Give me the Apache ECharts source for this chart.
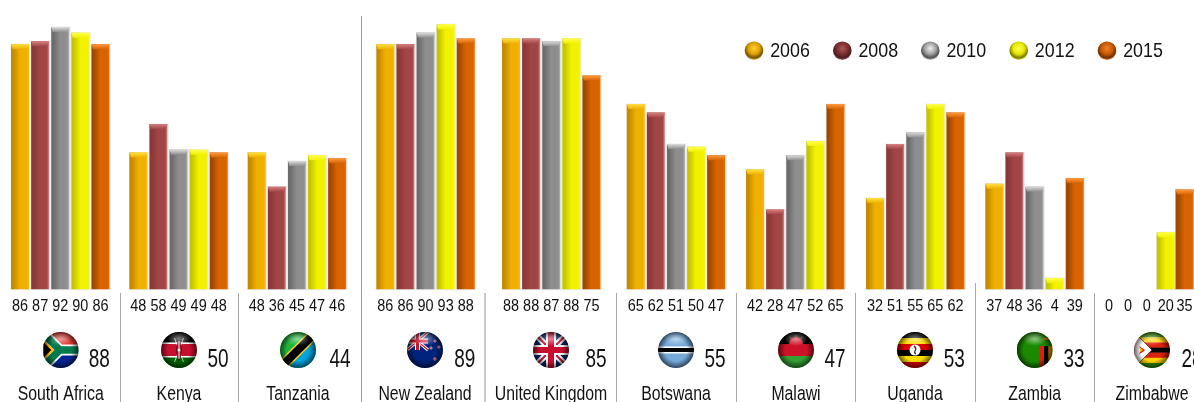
<!DOCTYPE html>
<html>
<head>
<meta charset="utf-8">
<style>html,body{margin:0;padding:0;background:#fff;overflow:hidden}#chart{width:1194px;height:402px}</style>
<script src="https://cdn.jsdelivr.net/npm/echarts@6/dist/echarts.min.js"></script>
</head>
<body>
<div id="chart"></div>
<script>
// Survey scores per country and year, plus the overall score beside each flag.
const years = ['2006', '2008', '2010', '2012', '2015'];
const countries = ['South Africa', 'Kenya', 'Tanzania', 'New Zealand', 'United Kingdom', 'Botswana', 'Malawi', 'Uganda', 'Zambia', 'Zimbabwe'];
const values2006 = [86, 48, 48, 86, 88, 65, 42, 32, 37, 0];
const values2008 = [87, 58, 36, 86, 88, 62, 28, 51, 48, 0];
const values2010 = [92, 49, 45, 90, 87, 51, 47, 55, 36, 0];
const values2012 = [90, 49, 47, 93, 88, 50, 52, 65, 4, 20];
const values2015 = [86, 48, 46, 88, 75, 47, 65, 62, 39, 35];
const overall = [88, 50, 44, 89, 85, 55, 47, 53, 33, 28];
const byYear = [values2006, values2008, values2010, values2012, values2015];

// Layout of the country panels.
const FONT = '"Liberation Sans", Arial, sans-serif';
const INK = '#111111';
const panelLeft = [10, 128.3, 246.7, 375.3, 501, 625.7, 745, 865, 984.3, 1099.6];
const flagCentre = [60.7, 179, 298, 425, 551, 676, 796, 915, 1034.7, 1152];
const scoreCentre = [99.3, 218, 340, 464.7, 596, 715, 835, 954.3, 1074, 1192];
const legendBall = [754, 842.3, 930.3, 1018.7, 1107];
const separators = [
  { x: 120.5, top: 293, color: '#a9a9a9', width: 1 },
  { x: 238.5, top: 293, color: '#a9a9a9', width: 1 },
  { x: 361.5, top: 16, color: '#a0a0a0', width: 1 },
  { x: 485, top: 293, color: '#c8c8c8', width: 2 },
  { x: 616.5, top: 293, color: '#a9a9a9', width: 1 },
  { x: 736.5, top: 293, color: '#a9a9a9', width: 1 },
  { x: 855.5, top: 293, color: '#a9a9a9', width: 1 },
  { x: 975.5, top: 283, color: '#a9a9a9', width: 1 },
  { x: 1094.5, top: 293, color: '#a9a9a9', width: 1 }
];

// Shading of each year's bars: left edge, middle, right edge, cap, and the legend ball.
const shades = [
  { l: '#c48a00', m: '#f0b000', r: '#f6bc10', cap: '#ffe040', ball: ['#ffd030', '#e0a000', '#705000', '#e8c040'] },
  { l: '#8a3838', m: '#a24545', r: '#cf9090', cap: '#d88080', ball: ['#a85858', '#7c2e2e', '#4a1c1c', '#b06868'] },
  { l: '#6c6c6c', m: '#8e8e8e', r: '#b4b4b4', cap: '#dcdcdc', ball: ['#efefef', '#a0a0a0', '#505050', '#c8c8c8'] },
  { l: '#c6c600', m: '#f2f200', r: '#f6f610', cap: '#ffff50', ball: ['#ffff50', '#e8e800', '#787800', '#e8e840'] },
  { l: '#a04800', m: '#d86400', r: '#ea7200', cap: '#ff9a40', ball: ['#f08030', '#c85a00', '#6e3000', '#e88030'] }
];

// Flag artwork on a 36 x 36 field, clipped to a ball and lit from above.
const stripes = (list) => {
  let y = 0, out = '';
  list.forEach(([c, h]) => { out += `<rect y="${y}" width="36" height="${h + 0.3}" fill="${c}"/>`; y += h; });
  return out;
};
const flagArt = {
  'South Africa': stripes([['#de3831', 18], ['#002395', 18]]) +
    '<path d="M-3 -2 L17 18 L-3 38 M17 18 H38" fill="none" stroke="#fff" stroke-width="11"/>' +
    '<path d="M-3 -2 L17 18 L-3 38 M17 18 H38" fill="none" stroke="#007a4d" stroke-width="7.5"/>' +
    '<path d="M0 8 L10 18 L0 28Z" fill="#000" stroke="#ffb612" stroke-width="2"/>',
  'Kenya': stripes([['#000', 10.5], ['#fff', 1.5], ['#c8102e', 12], ['#fff', 1.5], ['#006600', 10.5]]) +
    '<path d="M13.5 6 L22.5 30 M22.5 6 L13.5 30" stroke="#fff" stroke-width=".7"/>' +
    '<path d="M18 7 Q22.5 18 18 29 Q13.5 18 18 7Z" fill="#c8102e" stroke="#000" stroke-width=".6"/><path d="M18 9 V27" stroke="#fff" stroke-width=".9"/><circle cx="18" cy="18" r="1.5" fill="#fff"/>',
  'Tanzania': '<rect width="36" height="36" fill="#1eb53a"/><path d="M36 0 V36 H0Z" fill="#00a3dd"/><path d="M-4 40 L40 -4" stroke="#fcd116" stroke-width="11"/><path d="M-4 40 L40 -4" stroke="#000" stroke-width="8"/>',
  'New Zealand': '<rect width="36" height="36" fill="#00247d"/><path d="M0 0 L21 18 M21 0 L0 18" stroke="#fff" stroke-width="3"/><path d="M0 0 L21 18 M21 0 L0 18" stroke="#cc142b" stroke-width="1.2"/><path d="M10.5 0 V18 M0 9 H21" stroke="#fff" stroke-width="5"/><path d="M10.5 0 V18 M0 9 H21" stroke="#cc142b" stroke-width="3"/>' +
    '<g fill="#cc142b" stroke="#fff" stroke-width=".5"><circle cx="28" cy="9" r="1.2"/><circle cx="24" cy="16" r="1.2"/><circle cx="32" cy="15" r="1.2"/><circle cx="28" cy="27" r="1.3"/></g>',
  'United Kingdom': '<rect width="36" height="36" fill="#012169"/><path d="M0 0 L36 36 M36 0 L0 36" stroke="#fff" stroke-width="6"/><path d="M0 0 L36 36 M36 0 L0 36" stroke="#c8102e" stroke-width="2"/><path d="M18 0 V36 M0 18 H36" stroke="#fff" stroke-width="10"/><path d="M18 0 V36 M0 18 H36" stroke="#c8102e" stroke-width="6"/>',
  'Botswana': stripes([['#75aadb', 14.5], ['#fff', 1.5], ['#000', 4], ['#fff', 1.5], ['#75aadb', 14.5]]),
  'Malawi': stripes([['#000', 12], ['#ce1126', 12], ['#339e35', 12]]) + '<path d="M11 12 A7 7 0 0 1 25 12Z" fill="#ce1126"/><path d="M18 3 V6 M12 5 L14 7.5 M24 5 L22 7.5" stroke="#ce1126" stroke-width="1"/>',
  'Uganda': stripes([['#000', 6], ['#fcdc04', 6], ['#d90000', 6], ['#000', 6], ['#fcdc04', 6], ['#d90000', 6]]) + '<circle cx="18" cy="18" r="5.5" fill="#fff"/><path d="M17 14 Q20 16 18 19 Q17 21 19 22" fill="none" stroke="#333" stroke-width="1.3"/><path d="M17 16 L19 15" stroke="#d90000" stroke-width="1"/>',
  'Zambia': '<rect width="36" height="36" fill="#198a00"/><rect x="23" y="14" width="4.4" height="22" fill="#de2010"/><rect x="27.4" y="14" width="4.4" height="22" fill="#000"/><rect x="31.8" y="14" width="4.2" height="22" fill="#ef7d00"/><path d="M26 7 Q29.5 4 33 7 Q29.5 9 26 7Z" fill="#ef7d00"/>',
  'Zimbabwe': stripes([['#319208', 5.2], ['#ffd200', 5.2], ['#de2010', 5.2], ['#000', 5], ['#de2010', 5.2], ['#ffd200', 5.2], ['#319208', 5]]) +
    '<path d="M0 0 L18 18 L0 36Z" fill="#fff" stroke="#000" stroke-width=".6"/><path d="M5 14 L7 18 L5 22 L9 20 L11 18 L8 16Z" fill="#de2010"/><path d="M6 16 L9 18 L6 20Z" fill="#ffd200"/>'
};
const flagImage = (name) => {
  const svg = `<svg xmlns="http://www.w3.org/2000/svg" width="72" height="72" viewBox="0 0 36 36"><defs>` +
    `<clipPath id="c"><circle cx="18" cy="18" r="18"/></clipPath>` +
    `<radialGradient id="edge" cx=".5" cy=".5" r=".5"><stop offset=".62" stop-color="#000" stop-opacity="0"/><stop offset="1" stop-color="#000" stop-opacity=".6"/></radialGradient>` +
    `<radialGradient id="shine" cx=".5" cy=".5" r=".5"><stop offset="0" stop-color="#fff" stop-opacity=".5"/><stop offset="1" stop-color="#fff" stop-opacity="0"/></radialGradient>` +
    `</defs><g clip-path="url(#c)">${flagArt[name]}<circle cx="18" cy="18" r="18" fill="url(#edge)"/>` +
    `<ellipse cx="18" cy="7" rx="12" ry="7" fill="url(#shine)"/></g></svg>`;
  return 'data:image/svg+xml;charset=utf-8,' + encodeURIComponent(svg);
};

// One bar: a shaded body, a soft bevelled top and its value printed below the baseline.
const BAR_WIDTH = 18;
const makeBar = (shade) => (params, api) => {
  const value = api.value(1);
  const top = api.coord([api.value(0), value]);
  const base = api.coord([api.value(0), 0]);
  const children = [{
    type: 'text', x: top[0], y: base[1] + 17, scaleX: 0.85,
    style: { text: String(value), fontFamily: FONT, fontSize: 17, fill: INK, textAlign: 'center', textVerticalAlign: 'middle' }
  }];
  if (value) {
    const l = top[0] - BAR_WIDTH / 2, r = l + BAR_WIDTH, t = top[1], b = base[1];
    const across = new echarts.graphic.LinearGradient(0, 0, 1, 0, [
      { offset: 0, color: shade.l }, { offset: 0.12, color: shade.l },
      { offset: 0.5, color: shade.m }, { offset: 0.88, color: shade.m }, { offset: 1, color: shade.r }
    ]);
    const bevel = new echarts.graphic.LinearGradient(0, 0, 0, 1, [
      { offset: 0, color: shade.cap }, { offset: 1, color: shade.m }
    ]);
    children.unshift(
      { type: 'rect', shape: { x: l - 0.5, y: t - 0.5, width: BAR_WIDTH + 2, height: b - t + 1.5 }, style: { fill: 'rgba(170,170,170,0.22)' } },
      { type: 'rect', shape: { x: l, y: t, width: BAR_WIDTH, height: b - t }, style: { fill: across } },
      { type: 'polygon', shape: { points: [[l, t], [r, t], [r - 1.5, Math.min(t + 5, b)], [l + 1.5, Math.min(t + 5, b)]] }, style: { fill: bevel } }
    );
  }
  return { type: 'group', children };
};

const grid = [], xAxis = [], yAxis = [], series = [], graphic = [];

const printed = (text, x, y, size, squeeze) => ({
  type: 'text', x, y, scaleX: squeeze,
  style: { text, fontFamily: FONT, fontSize: size, fill: INK, textAlign: 'center', textVerticalAlign: 'middle' }
});

countries.forEach((name, i) => {
  grid.push({ left: panelLeft[i], width: 100.5, top: 4.3, height: 285 });
  xAxis.push({ type: 'category', gridIndex: i, data: years, show: false });
  yAxis.push({ type: 'value', gridIndex: i, min: 0, max: 100, show: false, splitLine: { show: false } });

  years.forEach((year, j) => {
    series.push({
      type: 'custom', name: year, xAxisIndex: i, yAxisIndex: i,
      coordinateSystem: 'cartesian2d', clip: false,
      encode: { x: 0, y: 1 },
      data: [[j, byYear[j][i]]],
      renderItem: makeBar(shades[j])
    });
  });

  graphic.push({ type: 'image', x: flagCentre[i] - 18, y: 332, style: { image: flagImage(name), x: 0, y: 0, width: 36, height: 36 } });
  graphic.push(printed(String(overall[i]), scoreCentre[i], 360, 25, 0.76));
  graphic.push(printed(name, flagCentre[i], 395, 19.3, 0.82));
});

separators.forEach((s) => {
  graphic.push({ type: 'line', shape: { x1: s.x, y1: s.top, x2: s.x, y2: 402 }, style: { stroke: s.color, lineWidth: s.width } });
});

// Key of the years: a glossy ball and its label.
years.forEach((year, j) => {
  const b = shades[j].ball;
  graphic.push({
    type: 'circle', shape: { cx: legendBall[j], cy: 50.7, r: 9.3 },
    style: {
      fill: new echarts.graphic.RadialGradient(0.5, 0.38, 0.62, [
        { offset: 0, color: b[0] }, { offset: 0.5, color: b[1] }, { offset: 0.82, color: b[2] }, { offset: 1, color: b[3] }
      ])
    }
  });
  graphic.push(printed(year, legendBall[j] + 36, 51.5, 21, 0.85));
});

const chart = echarts.init(document.getElementById('chart'), null, { renderer: 'canvas' });
chart.setOption({
  animation: false,
  backgroundColor: '#fff',
  grid, xAxis, yAxis, series, graphic
});
</script>
</body>
</html>
